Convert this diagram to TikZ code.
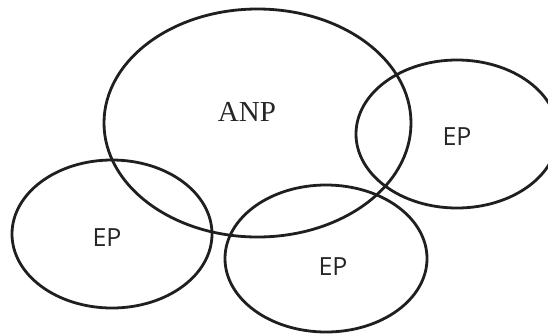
\documentclass[tikz,border=0pt]{standalone}
\usepackage{fontspec}
\setmainfont{Liberation Serif}
\newfontfamily\epfont{Open Sans}
\begin{document}
\begin{tikzpicture}[x=1pt,y=-1pt,
  ring/.style={draw=black!88,line width=2.8pt},
  eplabel/.style={font=\epfont\fontsize{25}{29}\selectfont,text=black!85},
  anplabel/.style={font=\fontsize{29}{34}\selectfont,text=black!85}]
\useasboundingbox (0,0) rectangle (548,333);
\clip (0,0) rectangle (548,333);
\draw[ring] (257.5,123) ellipse [x radius=153.5, y radius=114];
\draw[ring] (457,134) ellipse [x radius=101, y radius=74];
\draw[ring] (112,234) ellipse [x radius=100, y radius=74];
\draw[ring] (326,258.5) ellipse [x radius=101, y radius=73.5];
\node[anplabel] (anp) at (247,112) {ANP};
\node[eplabel] (ep1) at (457,137) {EP};
\node[eplabel] (ep2) at (107,238) {EP};
\node[eplabel] (ep3) at (333,267) {EP};
\end{tikzpicture}
\end{document}
